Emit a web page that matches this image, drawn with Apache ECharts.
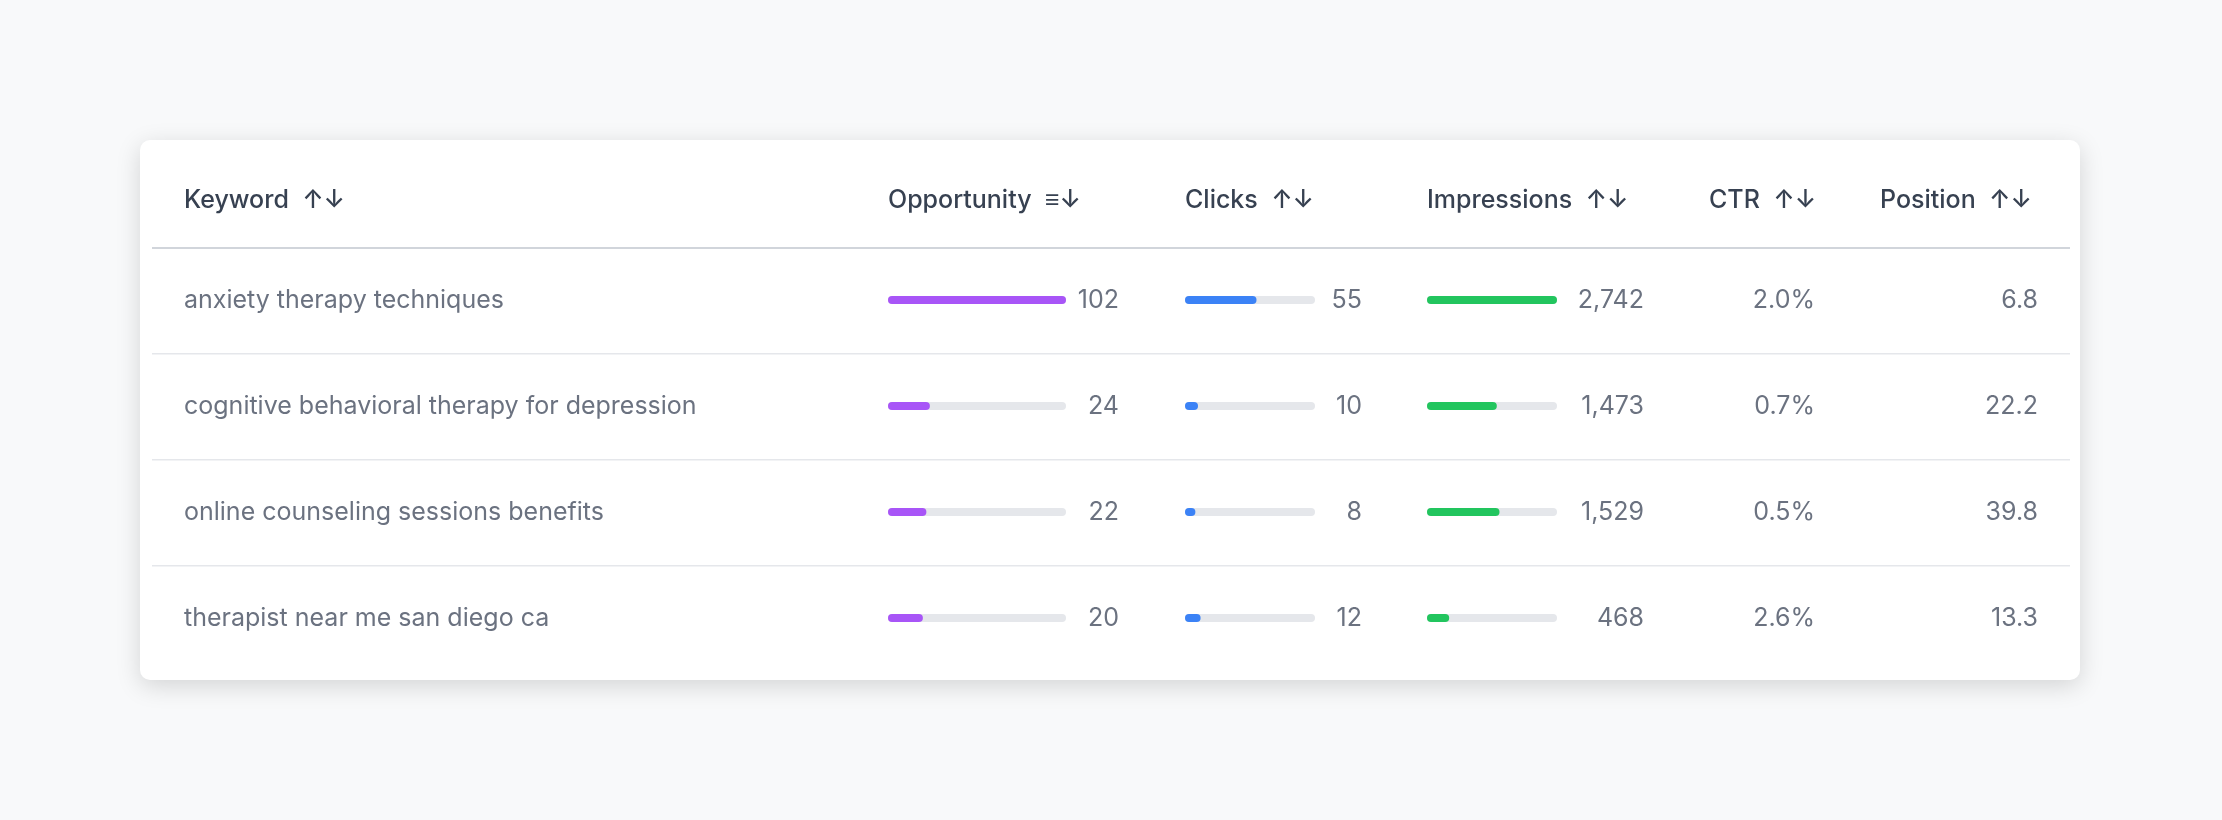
<!DOCTYPE html>
<html><head><meta charset="utf-8">
<script src="https://cdn.jsdelivr.net/npm/echarts@6/dist/echarts.min.js"></script>
<style>html,body{margin:0;padding:0;background:#f8f9fa;}#c{width:2222px;height:820px;}</style>
</head><body><div id="c"></div>
<script>
const keywords = ['anxiety therapy techniques','cognitive behavioral therapy for depression','online counseling sessions benefits','therapist near me san diego ca'];
const opportunity = [102, 24, 22, 20];
const clicks = [55, 10, 8, 12];
const impressions = [2742, 1473, 1529, 468];
const ctr = ['2.0%','0.7%','0.5%','2.6%'];
const position = ['6.8','22.2','39.8','13.3'];
const headers = ['Keyword','Opportunity','Clicks','Impressions','CTR','Position'];

const chart = echarts.init(document.getElementById('c'));
const FONT = 'Inter, "Noto Sans", sans-serif';
const cats = keywords.map((_, i) => String(i));
const gTop = 247, rowH = 106, gh = rowH * 4;
const cols = [
  {left: 888, width: 178, max: 102, data: opportunity, color: '#a855f7', valX: 1119},
  {left: 1185, width: 130, max: 100, data: clicks, color: '#3b82f6', valX: 1362},
  {left: 1427, width: 130, max: 2742, data: impressions, color: '#22c55e', valX: 1644}
];
const grid = cols.map(c => ({left: c.left, width: c.width, top: gTop, height: gh}));
const xAxis = cols.map((c, i) => ({type: 'value', gridIndex: i, min: 0, max: c.max, show: false}));
const yAxis = cols.map((c, i) => ({type: 'category', gridIndex: i, data: cats, inverse: true, show: false}));
const series = cols.map((c, i) => ({
  type: 'bar', xAxisIndex: i, yAxisIndex: i, data: c.data, barWidth: 8,
  itemStyle: {color: c.color, borderRadius: 4}, showBackground: true,
  backgroundStyle: {color: '#e5e7eb', borderRadius: 4}, silent: true
}));
const rowY = i => gTop + rowH * i + rowH / 2;
const g = [];
g.push({type: 'rect', shape: {x: 140, y: 140, width: 1940, height: 540, r: 10}, style: {fill: '#fff', shadowBlur: 24, shadowColor: 'rgba(0,0,0,0.15)', shadowOffsetY: 6}, z: -10});
const hdrX = [184, 888, 1185, 1427, 1709, 1880];
headers.forEach((h, i) => {
  g.push({type: 'text', x: hdrX[i], y: 200, style: {text: h + (i === 1 ? '  ≡↓' : '  ↑↓'), font: '500 25px ' + FONT, fill: '#374151', verticalAlign: 'middle'}});
});
g.push({type: 'rect', shape: {x: 152, y: 247, width: 1918, height: 2}, style: {fill: '#d1d5db'}});
for (let i = 1; i < 4; i++) g.push({type: 'rect', shape: {x: 152, y: gTop + rowH * i, width: 1918, height: 1.5}, style: {fill: '#e5e7eb'}});
keywords.forEach((k, i) => {
  const y = rowY(i);
  const t = (x, s, align) => g.push({type: 'text', x: x, y: y, style: {text: s, font: '25px ' + FONT, fill: '#6b7280', align: align, verticalAlign: 'middle'}});
  t(184, k, 'left');
  cols.forEach(c => t(c.valX, c.data[i].toLocaleString('en-US'), 'right'));
  t(1815, ctr[i], 'right');
  t(2038, position[i], 'right');
});
chart.setOption({animation: false, backgroundColor: '#f8f9fa', grid, xAxis, yAxis, series, graphic: g});
</script></body></html>
